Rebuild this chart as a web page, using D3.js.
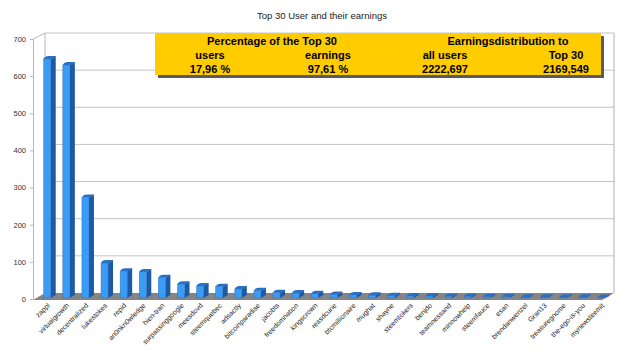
<!DOCTYPE html>
<html>
<head>
<meta charset="utf-8">
<script src="https://cdn.jsdelivr.net/npm/d3@7"></script>
<style>
  body { margin: 0; background: #fff; }
  svg { display: block; font-family: "Liberation Sans", Arial, sans-serif; }
</style>
</head>
<body>
<svg id="main-chart"></svg>
<script>
// data
const users = ["zappl", "virtualgrowth", "decentralized", "lukestokes", "repid", "an0nkn0wledge",
  "hien-tran", "surpassinggoogle", "meesdovd", "steemquebec", "adsactly", "bitcoinparadise",
  "jacobts", "freedomnation", "kingscrown", "ressdcurie", "btcmillionaire", "mughat", "shayne",
  "steemtokers", "benjdo", "teamnessand", "minnowhelp", "steemfauce", "esan", "brendanwenzel",
  "Gran13", "treasuregnome", "the-ego-is-you", "mynewsteemit"];
const earnings = [646, 630, 273, 97, 75, 73, 57, 40, 35, 33, 27, 22, 17, 16, 14, 12, 11, 10,
  9, 8, 8, 7, 7, 6, 6, 5, 5, 5, 5, 4];
const yTicks = [0, 100, 200, 300, 400, 500, 600, 700];

const groupTitles = ["Percentage of the Top 30", "Earningsdistribution to"];
const colTitles = ["users", "earnings", "all users", "Top 30"];
const colValues = ["17,96 %", "97,61 %", "2222,697", "2169,549"];

const width = 640, height = 360;
const depthX = 12, depthY = -6;   // back wall offset
const barDX = 5, barDY = -3;      // bar depth

const svg = d3.select("#main-chart").attr("width", width).attr("height", height);

const y = d3.scaleLinear().domain([0, 700]).range([299, 39]);
const x = d3.scaleBand().domain(users).range([35, 614]).padding(0.3);
const frontW = 7;
const left = 33, right = 602;

// title
svg.append("text")
  .attr("x", 322).attr("y", 19)
  .attr("text-anchor", "middle")
  .attr("font-size", "9.5px")
  .attr("fill", "#222")
  .text("Top 30 User and their earnings");

// back wall gridlines
const grid = svg.append("g");
grid.selectAll("line")
  .data(yTicks.slice(1))
  .join("line")
  .attr("x1", left + depthX).attr("x2", right + depthX)
  .attr("y1", d => y(d) + depthY).attr("y2", d => y(d) + depthY)
  .attr("stroke", "#c4c4c4").attr("stroke-width", 1);

// wall edges
svg.append("path")
  .attr("d", `M${left},${y(700)} L${left + depthX},${y(700) + depthY} L${left + depthX},${y(0) + depthY}`)
  .attr("fill", "none").attr("stroke", "#b8b8b8");
svg.append("line")
  .attr("x1", right + depthX).attr("x2", right + depthX)
  .attr("y1", y(700) + depthY).attr("y2", y(0) + depthY)
  .attr("stroke", "#b0b0b0");

// floor
svg.append("path")
  .attr("d", `M${left},${y(0) + 1} L${right},${y(0) + 1} L${right + depthX},${y(0) + depthY} L${left + depthX},${y(0) + depthY} Z`)
  .attr("fill", "#858585");

// y axis
const yAxis = svg.append("g")
  .attr("transform", `translate(${left},0)`)
  .call(d3.axisLeft(y).tickValues(yTicks).tickSize(3).tickPadding(4));
yAxis.select(".domain").attr("stroke", "#b8b8b8");
yAxis.selectAll(".tick line").attr("stroke", "#b8b8b8");
yAxis.selectAll("text").attr("font-size", "7.5px").attr("fill", "#333")
  .attr("font-family", "'Liberation Sans', Arial, sans-serif");

// bars
const bars = svg.append("g").selectAll("g")
  .data(users.map((u, i) => ({ name: u, value: earnings[i] })))
  .join("g")
  .attr("transform", d => `translate(${x(d.name) + 3},0)`);

bars.append("path")   // side
  .attr("d", d => {
    const t = y(d.value), b = y(0) - 1;
    return `M${frontW},${t} L${frontW + barDX},${t + barDY} L${frontW + barDX},${b + barDY} L${frontW},${b} Z`;
  })
  .attr("fill", "#1d5aa3");
bars.append("path")   // top
  .attr("d", d => {
    const t = y(d.value);
    return `M0,${t} Q1,${t + barDY} ${barDX},${t + barDY} L${frontW + barDX},${t + barDY} Q${frontW + barDX - 1},${t} ${frontW},${t} Z`;
  })
  .attr("fill", "#2a6fc2");
bars.append("rect")   // front
  .attr("x", 0)
  .attr("y", d => y(d.value))
  .attr("width", frontW)
  .attr("height", d => Math.max(0, y(0) - 1 - y(d.value)))
  .attr("fill", "#3a9cf5")
  .attr("stroke", "#2a72c8").attr("stroke-width", 0.5);

// x labels
svg.append("g").selectAll("text")
  .data(users)
  .join("text")
  .attr("transform", d => `translate(${x(d) + x.bandwidth() / 2 + 3},${306}) rotate(-45)`)
  .attr("text-anchor", "end")
  .attr("font-size", "7px")
  .attr("fill", "#222")
  .text(d => d);

// summary box
const box = svg.append("g").attr("transform", "translate(155,33)");
const boxW = 446, boxH = 42;
box.append("rect")
  .attr("x", 3).attr("y", 3).attr("width", boxW).attr("height", boxH)
  .attr("fill", "#5a5a5a");
box.append("rect")
  .attr("width", boxW).attr("height", boxH)
  .attr("fill", "#ffcc00");

const groupX = [117, 353];
const colX = [55, 173, 290, 411];
box.selectAll(".gt")
  .data(groupTitles)
  .join("text")
  .attr("x", (d, i) => groupX[i]).attr("y", 12)
  .attr("text-anchor", "middle")
  .attr("font-weight", "bold").attr("font-size", "11px")
  .text(d => d);
box.selectAll(".ct")
  .data(colTitles)
  .join("text")
  .attr("x", (d, i) => colX[i]).attr("y", 26)
  .attr("text-anchor", "middle")
  .attr("font-weight", "bold").attr("font-size", "11px")
  .text(d => d);
box.selectAll(".cv")
  .data(colValues)
  .join("text")
  .attr("x", (d, i) => colX[i]).attr("y", 39.5)
  .attr("text-anchor", "middle")
  .attr("font-weight", "bold").attr("font-size", "11px")
  .text(d => d);
</script>
</body>
</html>
